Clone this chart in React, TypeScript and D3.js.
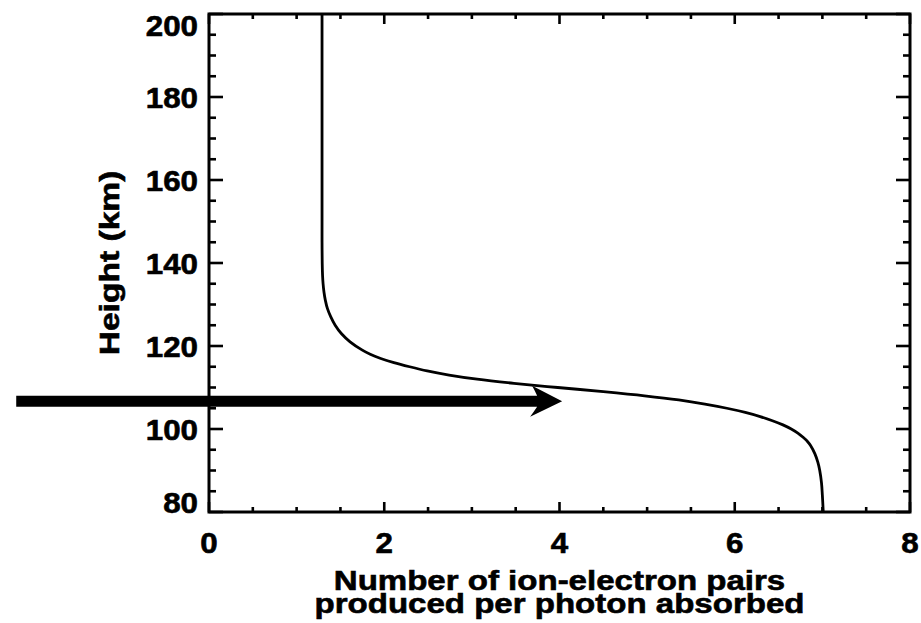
import React from "react";
import * as d3 from "d3";

const heights = [200, 150, 145, 140, 137, 135, 133, 131, 129, 127, 125, 123, 121, 119, 118, 117, 116, 115, 114, 113, 112, 111, 110, 109, 108, 107, 106, 105, 104, 103, 102, 101, 100, 99, 98, 97, 96, 94, 92, 90, 87, 84, 80];
const pairs = [1.29, 1.29, 1.29, 1.292, 1.296, 1.302, 1.312, 1.328, 1.352, 1.39, 1.44, 1.51, 1.61, 1.75, 1.84, 1.96, 2.11, 2.29, 2.49, 2.74, 3.06, 3.48, 3.98, 4.5, 4.97, 5.36, 5.66, 5.91, 6.12, 6.29, 6.43, 6.55, 6.645, 6.72, 6.78, 6.83, 6.865, 6.915, 6.948, 6.97, 6.99, 7.0, 7.01];
const xTicks = [0, 2, 4, 6, 8];
const yTicks = [80, 100, 120, 140, 160, 180, 200];
const arrowStartX = -2.2;
const arrowEndX = 4.03;
const arrowHeight = 106.7;

const W = 921;
const H = 623;
const L = 209, R = 910, T = 14, B = 512;
const FONT = "'Liberation Sans', Arial, Helvetica, sans-serif";

function SText({ x, y, rot = 0, sx = 1.2, size = 26, anchor = "middle", children }: any) {
  return (
    <text
      transform={`translate(${x},${y}) rotate(${rot}) scale(${sx},1)`}
      textAnchor={anchor}
      fontFamily={FONT}
      fontWeight="bold"
      fontSize={size}
      fill="#000"
      stroke="#000"
      strokeWidth={0.6}
    >
      {children}
    </text>
  );
}

export default function App() {
  const x = d3.scaleLinear().domain([0, 8]).range([L, R]);
  const y = d3.scaleLinear().domain([80, 200]).range([B, T]);
  const pts: [number, number][] = heights.map((h, i) => [x(pairs[i]), y(h)]);
  const line = d3.line().curve(d3.curveCatmullRom.alpha(0.5))(pts) || "";

  const xMinor = d3.range(0, 8.001, 0.5);
  const yMinor = d3.range(80, 200.001, 5);

  const ax0 = x(arrowStartX);
  const ax1 = x(arrowEndX);
  const ay = y(arrowHeight);
  const half = 5.5;
  const arrowPath =
    `M${ax0},${ay - half} L${ax1 - 25},${ay - half} Q${ax1 - 27},${ay - 10} ${ax1 - 30},${ay - 15.5} ` +
    `L${ax1},${ay} L${ax1 - 32},${ay + 15.5} Q${ax1 - 28},${ay + 10} ${ax1 - 25},${ay + half} L${ax0},${ay + half} Z`;

  return (
    <svg width={W} height={H} style={{ position: "absolute", left: 0, top: 0, background: "#fff" }}>
      <rect x={0} y={0} width={W} height={H} fill="#fff" />
      {xMinor.map((v) => {
        const major = Math.abs(v - Math.round(v / 2) * 2) < 1e-6;
        const len = major ? 10 : 5;
        return (
          <g key={"xm" + v}>
            <line x1={x(v)} x2={x(v)} y1={B} y2={B - len} stroke="#000" strokeWidth={2.6} />
            <line x1={x(v)} x2={x(v)} y1={T} y2={T + len} stroke="#000" strokeWidth={2.6} />
          </g>
        );
      })}
      {yMinor.map((v) => {
        const major = Math.abs(v % 20) < 1e-6;
        const len = major ? 14 : 7;
        return (
          <g key={"ym" + v}>
            <line x1={L} x2={L + len} y1={y(v)} y2={y(v)} stroke="#000" strokeWidth={2.6} />
            <line x1={R} x2={R - len} y1={y(v)} y2={y(v)} stroke="#000" strokeWidth={2.6} />
          </g>
        );
      })}
      <rect x={L} y={T} width={R - L} height={B - T} fill="none" stroke="#000" strokeWidth={3} />
      <path d={line} fill="none" stroke="#000" strokeWidth={2.8} />
      <path d={arrowPath} fill="#000" />
      {xTicks.map((v) => (
        <SText key={"xl" + v} x={x(v)} y={553} sx={1.08} size={29}>
          {String(v)}
        </SText>
      ))}
      {yTicks.map((v) => {
        const cy = Math.min(Math.max(y(v), 25), 502);
        return (
          <SText key={"yl" + v} x={198} y={cy + 10.5} sx={1.08} size={29} anchor="end">
            {String(v)}
          </SText>
        );
      })}
      <SText x={(L + R) / 2} y={590} sx={1.18} size={28}>
        Number of ion-electron pairs
      </SText>
      <SText x={(L + R) / 2} y={613} sx={1.18} size={28}>
        produced per photon absorbed
      </SText>
      <SText x={119} y={(T + B) / 2} rot={-90} sx={1.2} size={28}>
        Height (km)
      </SText>
    </svg>
  );
}
